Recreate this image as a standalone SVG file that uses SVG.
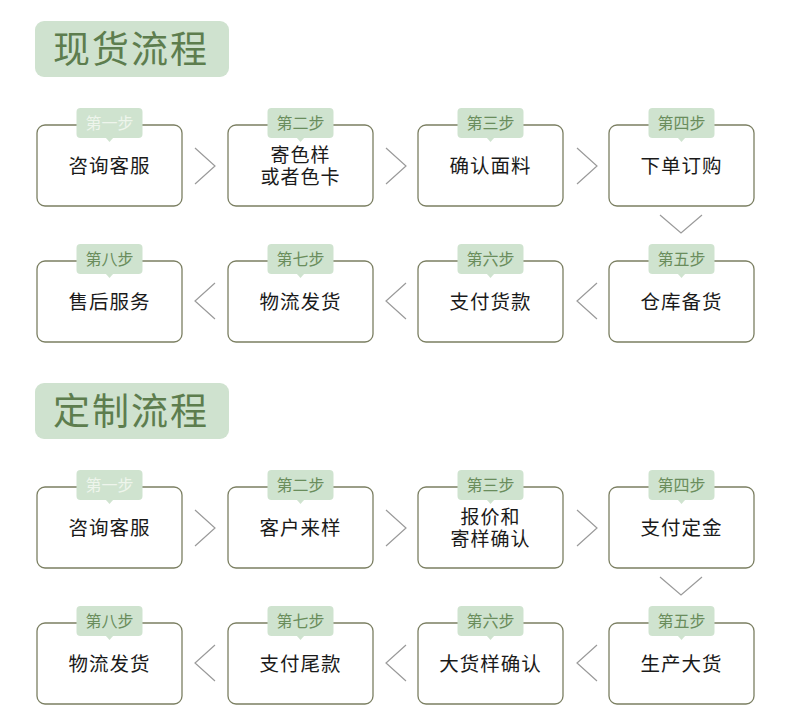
<svg xmlns="http://www.w3.org/2000/svg" width="790" height="720" viewBox="0 0 790 720">
<style>
text{font-family:"Noto Sans CJK SC","Noto Sans",sans-serif;}
.title-bg{fill:#cfe2cf;}
.title{font-size:37px;fill:#5d7d4e;letter-spacing:2px;}
.box{fill:#fff;stroke:#7b7f62;stroke-width:1.3;}
.tag{fill:#cfe3cf;}
.tagt{font-size:16px;fill:#6a8d5c;text-anchor:middle;}
.tagt.first{fill:#eef5ec;}
.lbl{font-size:19.5px;fill:#1a1a1a;text-anchor:middle;letter-spacing:1px;}
.lbl2{font-size:19px;}
.chev{fill:none;stroke:#9a9a9a;stroke-width:1.2;}
</style>
<defs>
<g id="frame">
<rect class="box" x="0" y="17" width="145" height="81" rx="8"/>
<rect class="tag" x="39.5" y="0" width="66" height="30" rx="4"/>
<polygon class="tag" points="68.5,29.5 72.5,34 76.5,29.5"/>
</g>
</defs>
<rect width="790" height="720" fill="#fff"/>

<g id="title1"><rect class="title-bg" x="35" y="21" width="194" height="56" rx="9"/><text class="title" x="53" y="63">现货流程</text></g>
<g id="title2"><rect class="title-bg" x="35" y="383" width="194" height="56" rx="9"/><text class="title" x="53" y="425">定制流程</text></g>

<g id="a1" transform="translate(37,108)"><use href="#frame"/><text class="tagt first" x="72.5" y="21">第一步</text><text class="lbl" x="72.5" y="65">咨询客服</text></g>
<g id="a2" transform="translate(228,108)"><use href="#frame"/><text class="tagt" x="72.5" y="21">第二步</text><text class="lbl lbl2"><tspan x="72.5" y="53.5">寄色样</tspan><tspan x="72.5" y="75.5">或者色卡</tspan></text></g>
<g id="a3" transform="translate(418,108)"><use href="#frame"/><text class="tagt" x="72.5" y="21">第三步</text><text class="lbl" x="72.5" y="65">确认面料</text></g>
<g id="a4" transform="translate(609,108)"><use href="#frame"/><text class="tagt" x="72.5" y="21">第四步</text><text class="lbl" x="72.5" y="65">下单订购</text></g>
<g id="a5" transform="translate(609,244)"><use href="#frame"/><text class="tagt" x="72.5" y="21">第五步</text><text class="lbl" x="72.5" y="65">仓库备货</text></g>
<g id="a6" transform="translate(418,244)"><use href="#frame"/><text class="tagt" x="72.5" y="21">第六步</text><text class="lbl" x="72.5" y="65">支付货款</text></g>
<g id="a7" transform="translate(228,244)"><use href="#frame"/><text class="tagt" x="72.5" y="21">第七步</text><text class="lbl" x="72.5" y="65">物流发货</text></g>
<g id="a8" transform="translate(37,244)"><use href="#frame"/><text class="tagt" x="72.5" y="21">第八步</text><text class="lbl" x="72.5" y="65">售后服务</text></g>

<g id="b1" transform="translate(37,470)"><use href="#frame"/><text class="tagt first" x="72.5" y="21">第一步</text><text class="lbl" x="72.5" y="65">咨询客服</text></g>
<g id="b2" transform="translate(228,470)"><use href="#frame"/><text class="tagt" x="72.5" y="21">第二步</text><text class="lbl" x="72.5" y="65">客户来样</text></g>
<g id="b3" transform="translate(418,470)"><use href="#frame"/><text class="tagt" x="72.5" y="21">第三步</text><text class="lbl lbl2"><tspan x="72.5" y="53.5">报价和</tspan><tspan x="72.5" y="75.5">寄样确认</tspan></text></g>
<g id="b4" transform="translate(609,470)"><use href="#frame"/><text class="tagt" x="72.5" y="21">第四步</text><text class="lbl" x="72.5" y="65">支付定金</text></g>
<g id="b5" transform="translate(609,606)"><use href="#frame"/><text class="tagt" x="72.5" y="21">第五步</text><text class="lbl" x="72.5" y="65">生产大货</text></g>
<g id="b6" transform="translate(418,606)"><use href="#frame"/><text class="tagt" x="72.5" y="21">第六步</text><text class="lbl" x="72.5" y="65">大货样确认</text></g>
<g id="b7" transform="translate(228,606)"><use href="#frame"/><text class="tagt" x="72.5" y="21">第七步</text><text class="lbl" x="72.5" y="65">支付尾款</text></g>
<g id="b8" transform="translate(37,606)"><use href="#frame"/><text class="tagt" x="72.5" y="21">第八步</text><text class="lbl" x="72.5" y="65">物流发货</text></g>

<g id="connectors">
<polyline class="chev" points="195,148 215,166 195,184"/>
<polyline class="chev" points="386,148 406,166 386,184"/>
<polyline class="chev" points="577,148 597,166 577,184"/>
<polyline class="chev" points="660,215 681,233 702,215"/>
<polyline class="chev" points="597,283 577,301 597,319"/>
<polyline class="chev" points="406,283 386,301 406,319"/>
<polyline class="chev" points="215,283 195,301 215,319"/>

<polyline class="chev" points="195,510 215,528 195,546"/>
<polyline class="chev" points="386,510 406,528 386,546"/>
<polyline class="chev" points="577,510 597,528 577,546"/>
<polyline class="chev" points="660,577 681,595 702,577"/>
<polyline class="chev" points="597,645 577,663 597,681"/>
<polyline class="chev" points="406,645 386,663 406,681"/>
<polyline class="chev" points="215,645 195,663 215,681"/>
</g>
</svg>
